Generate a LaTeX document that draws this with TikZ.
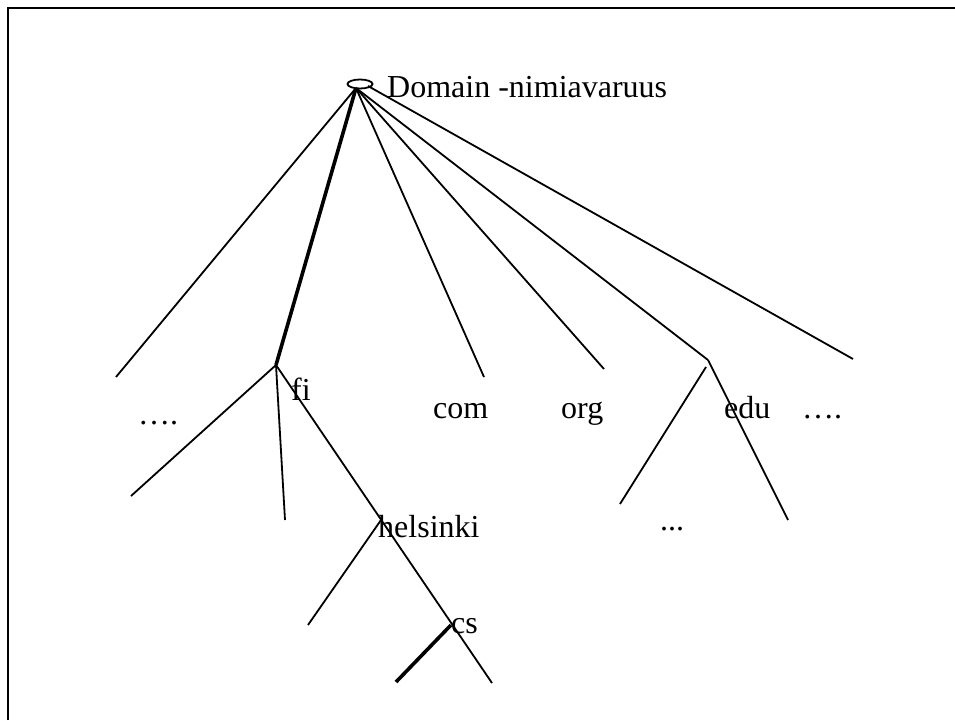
\documentclass[tikz,border=0pt]{standalone}
\usepackage{fontspec}
\setmainfont{Liberation Serif}
\usetikzlibrary{shapes.geometric}
\begin{document}
\begin{tikzpicture}[x=1pt,y=-1pt,
  edge/.style={line width=1.8pt},
  heavy/.style={line width=3.6pt},
  lbl/.style={anchor=base west,inner sep=0pt,font=\fontsize{32}{38}\selectfont}]
\useasboundingbox (0,0) rectangle (955,720);
% frame
\draw[line width=2.4pt] (8,720) -- (8,8) -- (955,8);

% root of the name space
\node[draw,line width=1.8pt,ellipse,minimum width=25pt,minimum height=9pt,inner sep=0pt] (root) at (360,84) {};
\coordinate (r) at (356,88);
\coordinate (rr) at (368,86);
\node[lbl] (title) at (387,97) {Domain -nimiavaruus};

% top-level domains
\coordinate (l1) at (116,377);
\coordinate (fi) at (276,365);
\coordinate (com) at (484,377);
\coordinate (org) at (604,369);
\coordinate (edu) at (708,360);
\coordinate (rx) at (853,359);

\draw[edge] (r) -- (l1);
\draw[heavy] (r) -- (fi);
\draw[edge] (r) -- (com);
\draw[edge] (r) -- (org);
\draw[edge] (r) -- (edu);
\draw[edge] (rr) -- (rx);

% fi subtree
\coordinate (fa) at (131,496);
\coordinate (fb) at (285,520);
\coordinate (fend) at (492,683);
\coordinate (hel) at (381,520);
\coordinate (ha) at (308,625);
\coordinate (cs) at (451,625);
\coordinate (csa) at (396,682);
\draw[edge] (fi) -- (fa);
\draw[edge] (fi) -- (fb);
\draw[edge] (fi) -- (fend);
\draw[edge] (hel) -- (ha);
\draw[heavy] (cs) -- (csa);

% edu subtree
\coordinate (ea) at (620,504);
\coordinate (eb) at (788,520);
\coordinate (es) at (706,367);
\draw[edge] (edu) -- (eb);
\draw[edge] (es) -- (ea);

% labels
\node[lbl] (tfi) at (291,400) {fi};
\node[lbl] (tcom) at (433,418) {com};
\node[lbl] (torg) at (561,418) {org};
\node[lbl] (tedu) at (724,418) {edu};
\node[lbl] (tdl) at (138,424) {….};
\node[lbl] (tdr) at (802,418) {….};
\node[lbl] (tdm) at (660,530) {...};
\node[lbl] (thel) at (378,537) {helsinki};
\node[lbl] (tcs) at (451,633) {cs};
\end{tikzpicture}
\end{document}
